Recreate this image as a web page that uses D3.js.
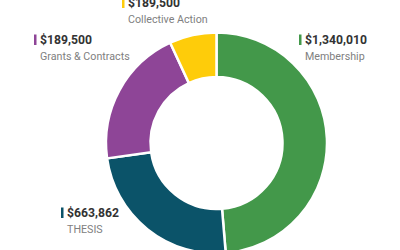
<!DOCTYPE html>
<html>
<head>
<meta charset="utf-8">
<script src="https://cdn.jsdelivr.net/npm/d3@7"></script>
<style>
  body { margin: 0; background: #fff; }
  svg { display: block; font-family: Roboto, sans-serif; }
</style>
</head>
<body>
<svg id="chart" width="400" height="250"></svg>
<script>
// slice order clockwise from 12 o'clock
const categories = ['Membership', 'THESIS', 'Grants & Contracts', 'Collective Action'];
// arc sizes (grants slice is drawn larger than its printed label)
const values = [1340010, 663862, 560000, 189500];
const valueLabels = ['$1,340,010', '$663,862', '$189,500', '$189,500'];
const colors = ['#43984a', '#0b5369', '#8e4597', '#fecc0a'];
// label anchor spots (left edge of colour tick, text baseline of amount)
const labelPos = [[299, 44], [61, 217], [34, 44], [122, 7]];

const svg = d3.select('#chart');
const cx = 216.5, cy = 143, outer = 110.5, inner = 66;

const pie = d3.pie().sort(null).value(d => d);
const arc = d3.arc().innerRadius(inner).outerRadius(outer);

const g = svg.append('g').attr('transform', `translate(${cx},${cy})`);
g.selectAll('path')
  .data(pie(values))
  .enter().append('path')
  .attr('d', arc)
  .attr('fill', (d, i) => colors[i])
  .attr('stroke', '#fff')
  .attr('stroke-width', 2.5);

const lab = svg.append('g').selectAll('g')
  .data(categories)
  .enter().append('g')
  .attr('transform', (d, i) => `translate(${labelPos[i][0]},${labelPos[i][1]})`);

lab.append('rect')
  .attr('x', 0).attr('y', -9.5)
  .attr('width', 2.5).attr('height', 10.5)
  .attr('fill', (d, i) => colors[i]);

lab.append('text')
  .attr('x', 6).attr('y', 0)
  .attr('font-size', 12.2).attr('font-weight', 'bold')
  .attr('fill', '#333')
  .text((d, i) => valueLabels[i]);

lab.append('text')
  .attr('x', 6).attr('y', 15.5)
  .attr('font-size', 10.7)
  .attr('fill', '#808080')
  .text(d => d);
</script>
</body>
</html>
